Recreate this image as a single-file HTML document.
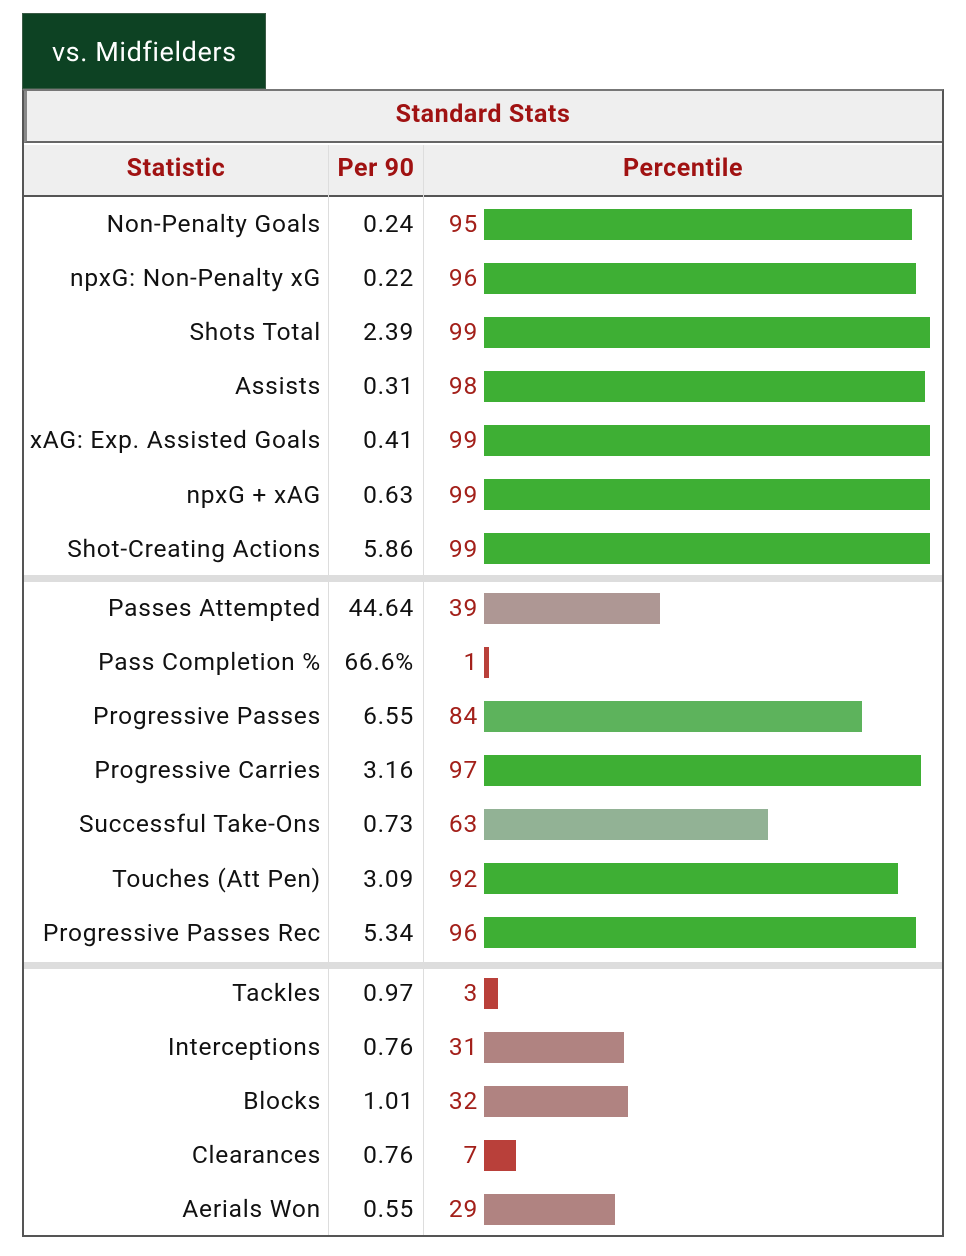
<!DOCTYPE html>
<html><head><meta charset="utf-8">
<style>
body{margin:0;width:966px;height:1256px;background:#fff;position:relative;overflow:hidden;font-family:"Roboto","Liberation Sans",sans-serif;}
.abs{position:absolute;}
#tab{left:22px;top:13px;width:244px;height:76px;background:#0d4223;color:#fff;font-size:27px;letter-spacing:0.6px;line-height:76px;text-indent:29px;box-sizing:border-box;border:1px solid #3a5a45;}
#table{left:22px;top:89px;width:922px;height:1148px;border:2px solid #555;border-top:2px solid #777;box-sizing:border-box;}
.hdr{color:#a01212;font-weight:bold;font-size:25px;letter-spacing:0.6px;text-align:center;}
.cell{font-size:24.5px;letter-spacing:0.78px;color:#111;white-space:nowrap;}
</style></head><body>
<div id="tab" class="abs">vs. Midfielders</div>
<div id="table" class="abs"></div>
<div class="abs" style="left:24px;top:91px;width:918px;height:52px;background:#efefef;border-left:3px solid #888;border-bottom:2px solid #666;box-sizing:border-box;"></div>
<div class="abs hdr" style="left:24px;top:100px;width:918px;">Standard Stats</div>
<div class="abs" style="left:24px;top:145px;width:918px;height:52px;background:#efefef;border-bottom:2px solid #555;box-sizing:border-box;"></div>
<div class="abs hdr" style="left:24px;top:154px;width:304px;">Statistic</div>
<div class="abs hdr" style="left:329px;top:154px;width:94px;">Per 90</div>
<div class="abs hdr" style="left:424px;top:154px;width:518px;">Percentile</div>
<div class="abs" style="left:328px;top:145px;width:1px;height:1090px;background:#ddd;"></div>
<div class="abs" style="left:423px;top:145px;width:1px;height:1090px;background:#ddd;"></div>
<div class="abs" style="left:24px;top:575px;width:918px;height:7px;background:#ddd;"></div>
<div class="abs" style="left:24px;top:962px;width:918px;height:7px;background:#ddd;"></div>
<div id="rows"></div>
<script>
const labels=["Non-Penalty Goals","npxG: Non-Penalty xG","Shots Total","Assists","xAG: Exp. Assisted Goals","npxG + xAG","Shot-Creating Actions","Passes Attempted","Pass Completion %","Progressive Passes","Progressive Carries","Successful Take-Ons","Touches (Att Pen)","Progressive Passes Rec","Tackles","Interceptions","Blocks","Clearances","Aerials Won"];
const per90=["0.24","0.22","2.39","0.31","0.41","0.63","5.86","44.64","66.6%","6.55","3.16","0.73","3.09","5.34","0.97","0.76","1.01","0.76","0.55"];
const percentiles=[95,96,99,98,99,99,99,39,1,84,97,63,92,96,3,31,32,7,29];
const groupStarts=[0,7,14];
const groupTops=[224,608,993];
const rowStep=54.1;
const barX=484, pxPerPct=4.5, barH=31;
function color(p){
  if(p>=90) return "#3eaf34";
  if(p>=80) return "#5db35c";
  if(p>=60) return "#92b295";
  if(p>=35) return "#ae9794";
  if(p>=20) return "#b08381";
  return "#b9403a";
}
const root=document.getElementById('rows');
labels.forEach((lab,i)=>{
  let g=i>=14?2:(i>=7?1:0);
  const cy=groupTops[g]+(i-groupStarts[g])*rowStep;
  const l=document.createElement('div');
  l.className='abs cell';
  l.style.cssText=`right:${966-321}px;top:${cy-15}px;`;
  l.textContent=lab;
  
  
  root.appendChild(l);
  const v=document.createElement('div');
  v.className='abs cell';
  v.style.cssText=`right:${966-414}px;top:${cy-15}px;`;
  v.textContent=per90[i];
  
  
  root.appendChild(v);
  const p=document.createElement('div');
  p.className='abs cell';
  p.style.cssText=`right:${966-478}px;top:${cy-15}px;color:#a3201a;`;
  p.textContent=percentiles[i];
  
  
  root.appendChild(p);
  const b=document.createElement('div');
  b.className='abs';
  b.style.cssText=`left:${barX}px;top:${cy-barH/2}px;height:${barH}px;width:${Math.max(3,percentiles[i]*pxPerPct)}px;background:${color(percentiles[i])};`;
  
  
  root.appendChild(b);
});
</script>
</body></html>
